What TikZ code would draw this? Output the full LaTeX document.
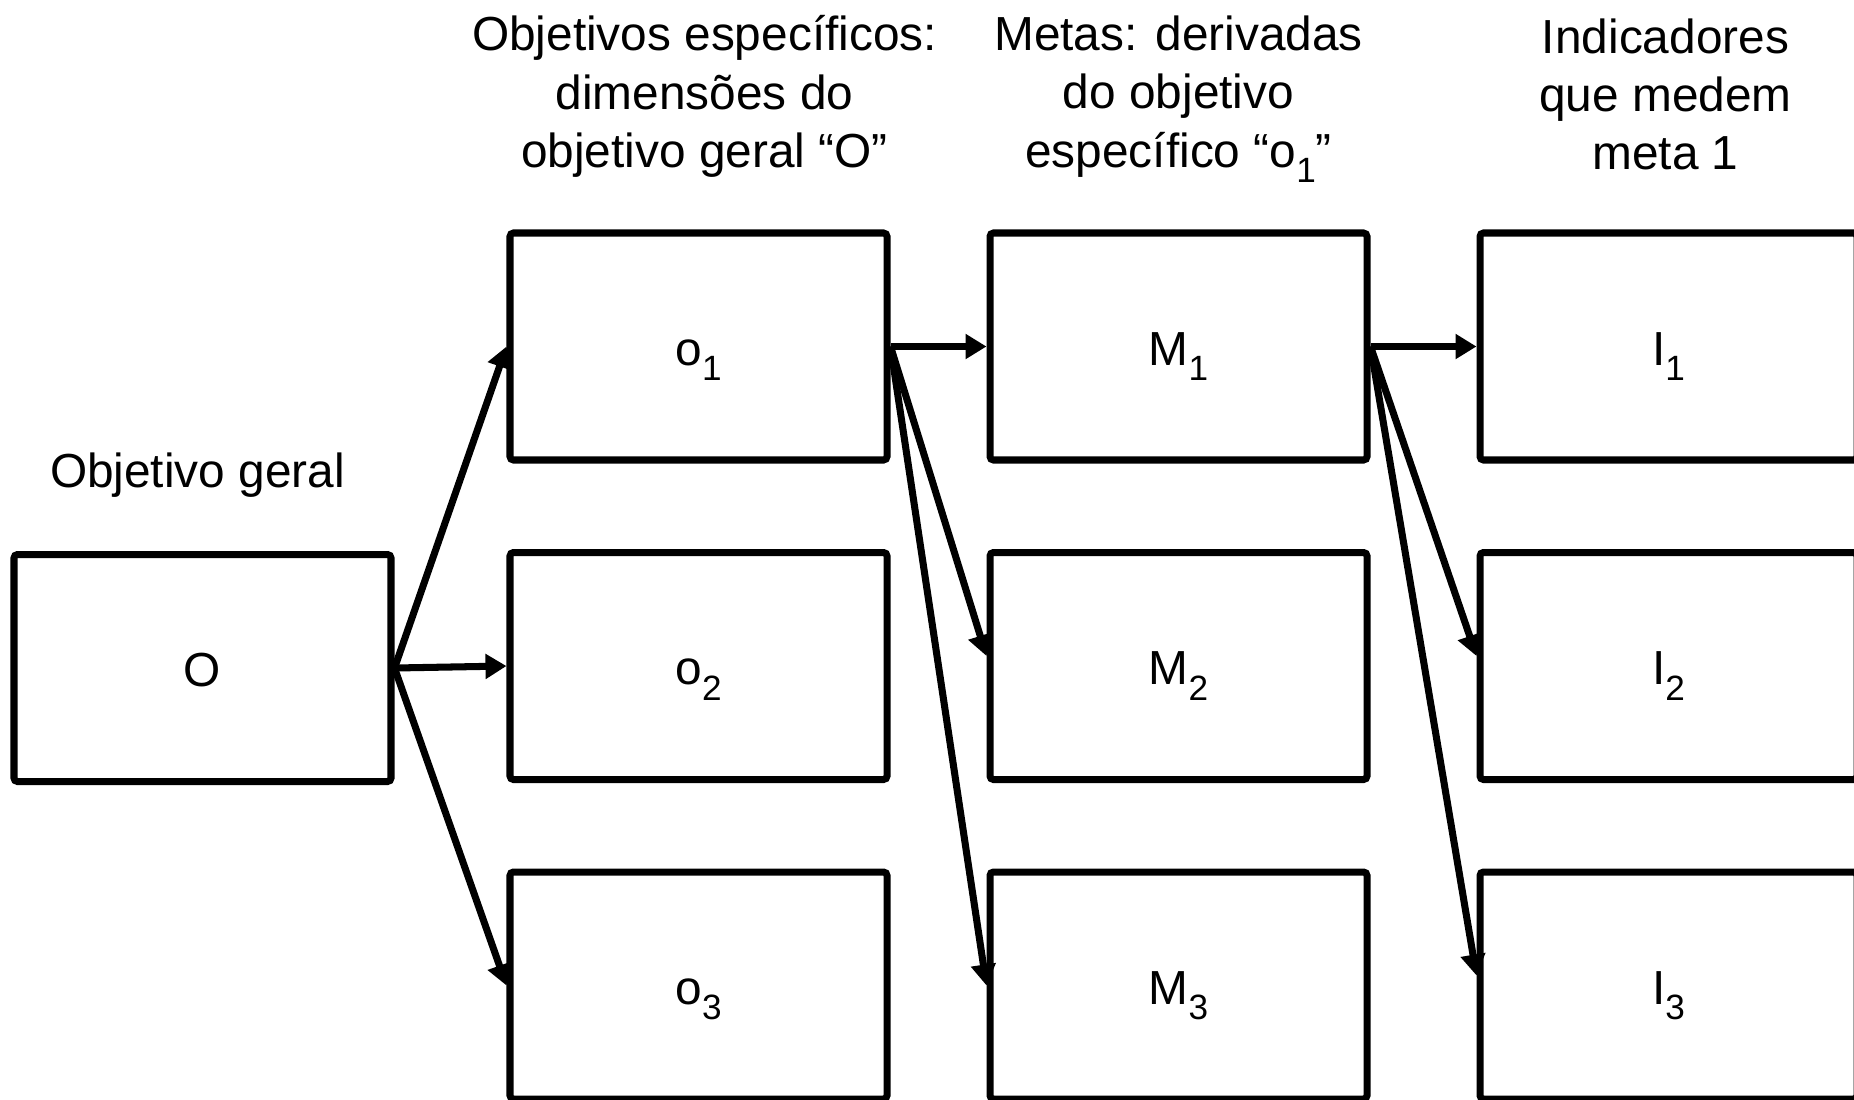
\documentclass[tikz,border=0pt]{standalone}
\usepackage{fontspec}
\setmainfont{Liberation Sans}
\usetikzlibrary{arrows.meta, positioning}
\newcommand{\indice}[1]{\raisebox{-0.32em}[0pt][0pt]{\fontsize{10}{10}\selectfont #1}}

\begin{document}
\begin{tikzpicture}[node distance=3.195cm, on grid,
                    font=\fontsize{13.6}{16.6}\selectfont,
                    caixa/.style={draw, line width=2pt, rounded corners=1pt,
                                  minimum width=3.77cm, minimum height=2.27cm, inner sep=0pt,
                                  text height=10.8pt, text depth=0pt},
                    titulo/.style={align=center},
                    seta/.style={-{Triangle[length=0.21cm, width=0.24cm]}, line width=2pt}]
    \useasboundingbox (0,0) rectangle (18.54,-10.99);
    % objetivo geral
    \node[caixa] (O) at (2.025,-6.68) {O};
    \node[titulo, above=1.93cm of O, xshift=-0.05cm] (tO) {Objetivo geral};
    % objetivos especificos
    \node[caixa, right=4.96cm of O, yshift=0.02cm] (o2) {o\indice{2}};
    \node[caixa, above=of o2] (o1) {o\indice{1}};
    \node[caixa, below=of o2] (o3) {o\indice{3}};
    % metas
    \node[caixa, right=4.8cm of o1] (M1) {M\indice{1}};
    \node[caixa, below=of M1] (M2) {M\indice{2}};
    \node[caixa, below=of M2] (M3) {M\indice{3}};
    % indicadores
    \node[caixa, right=4.9cm of M1] (I1) {I\indice{1}};
    \node[caixa, below=of I1] (I2) {I\indice{2}};
    \node[caixa, below=of I2] (I3) {I\indice{3}};
    % titulos das colunas
    \node[titulo, above=2.5cm of o1, xshift=0.06cm] (to) {Objetivos específicos:\\dimensões do\\objetivo geral “O”};
    \node[titulo, above=2.5cm of M1] (tM) {Metas: derivadas\\do objetivo\\específico “o\indice{1}”};
    \node[titulo, above=2.52cm of I1, xshift=-0.03cm] (tI) {Indicadores\\que medem\\meta 1};
    % setas
    \draw[seta] (O.east) -- (o1.west);
    \draw[seta] (O.east) -- (o2.west);
    \draw[seta] (O.east) -- (o3.west);
    \draw[seta] (o1.east) -- (M1.west);
    \draw[seta] (o1.east) -- ([yshift=0.1cm]M2.west);
    \draw[seta] (o1.east) -- (M3.west);
    \draw[seta] (M1.east) -- (I1.west);
    \draw[seta] (M1.east) -- ([yshift=0.1cm]I2.west);
    \draw[seta] (M1.east) -- ([yshift=0.1cm]I3.west);
\end{tikzpicture}
\end{document}
